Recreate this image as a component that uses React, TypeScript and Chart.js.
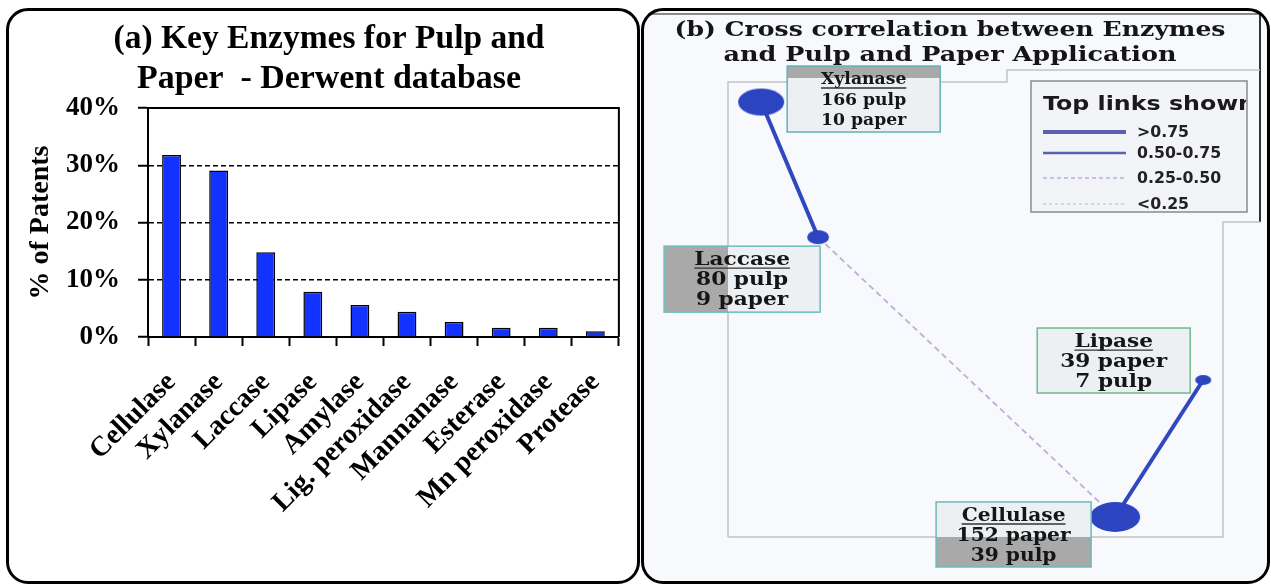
import React, { useEffect, useRef } from 'react';
import { Chart, registerables } from 'chart.js';

Chart.register(...registerables);

// ---------- Panel (a) data ----------
const enzymeCategories = ['Cellulase', 'Xylanase', 'Laccase', 'Lipase', 'Amylase', 'Lig. peroxidase', 'Mannanase', 'Esterase', 'Mn peroxidase', 'Protease'];
const patentShare = [31.8, 29.1, 14.8, 7.9, 5.6, 4.4, 2.6, 1.6, 1.6, 1.0];
const yTickValues = [0, 10, 20, 30, 40];
const leftTitleLines = ['(a) Key Enzymes for Pulp and', 'Paper  - Derwent database'];
const yAxisTitle = '% of Patents';

// ---------- Panel (b) data ----------
const rightTitleLines = ['(b) Cross correlation between Enzymes', 'and Pulp and Paper Application'];
const nodeNames = ['Xylanase', 'Laccase', 'Lipase', 'Cellulase'];
const nodeX = [6.7, 18.2, 96.0, 78.2];
const nodeY = [95.6, 65.9, 34.5, 4.4];
const pulpCounts = [166, 80, 7, 39];
const paperCounts = [10, 9, 39, 152];
const linkFrom = ['Xylanase', 'Laccase', 'Cellulase'];
const linkTo = ['Laccase', 'Cellulase', 'Lipase'];
const linkBand = ['>0.75', '0.25-0.50', '>0.75'];
const legendTitle = 'Top links shown';
const legendBands = ['>0.75', '0.50-0.75', '0.25-0.50', '<0.25'];

// ---------- styles ----------
const SERIF = '"Liberation Serif", "Times New Roman", serif';
const WIDE_SERIF = '"DejaVu Serif", serif';
const WIDE_SANS = '"DejaVu Sans", sans-serif';
const BAR_BLUE = '#1232ff';
const NODE_BLUE = '#2c44c0';

const LINK_STYLE: Record<string, { color: string; width: number; dash: number[] }> = {
  '>0.75': { color: '#3048bf', width: 4, dash: [] },
  '0.50-0.75': { color: '#3048bf', width: 2.5, dash: [] },
  '0.25-0.50': { color: '#bcb0d8', width: 1.8, dash: [6, 4] },
  '<0.25': { color: '#d8d0ea', width: 1.5, dash: [3, 3] },
};
const LEGEND_STYLE: Record<string, { color: string; width: number; dash: number[] }> = {
  '>0.75': { color: '#5a60b2', width: 4, dash: [] },
  '0.50-0.75': { color: '#5a60b2', width: 2.5, dash: [] },
  '0.25-0.50': { color: '#c9bfe0', width: 2, dash: [4, 3] },
  '<0.25': { color: '#d9d2ea', width: 2, dash: [3, 3] },
};
const NODE_SHAPE = [
  { rx: 23, ry: 13.5 },
  { rx: 11, ry: 7 },
  { rx: 8, ry: 5 },
  { rx: 25, ry: 15 },
];
const BOX_LAYOUT = [
  { dx: 26, dy: -36, w: 153, h: 66, border: '#62b4b4', font: 17, textW: 85 },
  { dx: -154, dy: 9, w: 156, h: 66, border: '#6cbdbd', font: 18, textW: 92 },
  { dx: -166, dy: -52, w: 153, h: 65, border: '#72bb8c', font: 18, textW: 107 },
  { dx: -179, dy: -15, w: 155, h: 65, border: '#6cb9b9', font: 18, textW: 114 },
];

function makeEllipse(rx: number, ry: number, color: string) {
  const c = document.createElement('canvas');
  c.width = Math.ceil(rx * 2) + 2;
  c.height = Math.ceil(ry * 2) + 2;
  const g = c.getContext('2d')!;
  g.fillStyle = color;
  g.beginPath();
  g.ellipse(c.width / 2, c.height / 2, rx, ry, 0, 0, Math.PI * 2);
  g.fill();
  return c;
}

function fitText(ctx: CanvasRenderingContext2D, text: string, cx: number, y: number, sx: number, align: CanvasTextAlign = 'center') {
  ctx.save();
  ctx.translate(cx, y);
  ctx.scale(sx, 1);
  ctx.textAlign = align;
  ctx.fillText(text, 0, 0);
  ctx.restore();
}

function BarPanel() {
  const ref = useRef<HTMLCanvasElement>(null);
  useEffect(() => {
    const titlePlugin = {
      id: 'panelTitleA',
      afterDraw(chart: any) {
        const ctx = chart.ctx as CanvasRenderingContext2D;
        const { left, right, top, bottom } = chart.chartArea;
        ctx.save();
        ctx.strokeStyle = '#000';
        ctx.lineWidth = 2;
        ctx.beginPath();
        ctx.moveTo(left, top);
        ctx.lineTo(right, top);
        ctx.lineTo(right, bottom);
        ctx.stroke();
        ctx.font = `bold 33px ${SERIF}`;
        ctx.fillStyle = '#000';
        ctx.textBaseline = 'alphabetic';
        const targets = [431, 384];
        leftTitleLines.forEach((t, i) => {
          const sx = targets[i] / ctx.measureText(t).width;
          fitText(ctx, t, 329, 48 + i * 40, sx);
        });
        ctx.restore();
      },
    };
    const chart = new Chart(ref.current!, {
      type: 'bar',
      data: {
        labels: enzymeCategories,
        datasets: [
          {
            data: patentShare,
            backgroundColor: BAR_BLUE,
            borderColor: '#000',
            borderWidth: 1.5,
            categoryPercentage: 1,
            barPercentage: 0.4,
          },
        ],
      },
      options: {
        animation: false,
        responsive: false,
        layout: { padding: { top: 108, right: 18, bottom: 0, left: 0 } },
        plugins: { legend: { display: false }, tooltip: { enabled: false }, title: { display: false } },
        scales: {
          x: {
            grid: { offset: true, drawOnChartArea: false, drawTicks: true, tickLength: 9, tickColor: '#000', tickWidth: 2 },
            border: { color: '#000', width: 2 },
            ticks: {
              minRotation: 45,
              maxRotation: 45,
              autoSkip: false,
              padding: 20,
              color: '#000',
              font: { family: SERIF, size: 28, weight: 'bold' },
            },
            afterFit: (s: any) => {
              s.height = 247;
            },
          },
          y: {
            min: 0,
            max: 40,
            afterBuildTicks: (s: any) => {
              s.ticks = yTickValues.map((v) => ({ value: v }));
            },
            ticks: {
              callback: (v: any) => v + '%',
              padding: 18,
              color: '#000',
              font: { family: SERIF, size: 27, weight: 'bold' },
            },
            grid: {
              color: (c: any) => {
                const v = c.tick ? c.tick.value : null;
                return v === 0 || v === 40 ? 'rgba(0,0,0,0)' : '#000';
              },
              lineWidth: 1.5,
              tickLength: 10,
              tickColor: '#000',
              tickWidth: 2,
            },
            border: { color: '#000', width: 2, dash: [5, 3] },
            title: {
              display: true,
              text: yAxisTitle,
              color: '#000',
              font: { family: SERIF, size: 28, weight: 'bold' },
              padding: { top: 24, bottom: 0 },
            },
            afterFit: (s: any) => {
              s.width = 148;
            },
          },
        },
      } as any,
      plugins: [titlePlugin],
    });
    return () => chart.destroy();
  }, []);
  return <canvas ref={ref} width={640} height={584} style={{ position: 'absolute', left: 0, top: 0 }} />;
}

function NetworkPanel() {
  const ref = useRef<HTMLCanvasElement>(null);
  useEffect(() => {
    const idx = (n: string) => nodeNames.indexOf(n);
    const linkDatasets = linkFrom.map((f, i) => {
      const a = idx(f);
      const b = idx(linkTo[i]);
      const st = LINK_STYLE[linkBand[i]];
      return {
        type: 'line',
        data: [
          { x: nodeX[a], y: nodeY[a] },
          { x: nodeX[b], y: nodeY[b] },
        ],
        borderColor: st.color,
        borderWidth: st.width,
        borderDash: st.dash,
        pointRadius: 0,
        showLine: true,
        fill: false,
        clip: false,
        order: 1,
      };
    });
    const nodeDataset = {
      type: 'scatter',
      data: nodeNames.map((_, i) => ({ x: nodeX[i], y: nodeY[i] })),
      pointStyle: NODE_SHAPE.map((s) => makeEllipse(s.rx, s.ry, NODE_BLUE)),
      pointRadius: 5,
      clip: false,
      order: 0,
    };

    const netPlugin = {
      id: 'network',
      beforeDraw(chart: any) {
        const ctx = chart.ctx as CanvasRenderingContext2D;
        const { left: L, right: R, top: T, bottom: B } = chart.chartArea;
        ctx.save();
        ctx.fillStyle = '#f7f9fc';
        ctx.beginPath();
        (ctx as any).roundRect(2, 9, 627, 573, 22);
        ctx.fill();
        // inner image edge lines
        ctx.strokeStyle = '#666';
        ctx.lineWidth = 1.5;
        ctx.beginPath();
        ctx.moveTo(8, 14);
        ctx.lineTo(620, 14);
        ctx.stroke();
        ctx.strokeStyle = '#333';
        ctx.lineWidth = 2;
        ctx.beginPath();
        ctx.moveTo(620, 14);
        ctx.lineTo(620, T + 140);
        ctx.stroke();
        // frame
        ctx.strokeStyle = '#c2c2c2';
        ctx.lineWidth = 1.5;
        ctx.beginPath();
        ctx.moveTo(L, B);
        ctx.lineTo(L, T);
        ctx.lineTo(L + 279, T);
        ctx.lineTo(L + 279, T - 12);
        ctx.lineTo(R + 37, T - 12);
        ctx.moveTo(R + 37, T + 140);
        ctx.lineTo(R, T + 140);
        ctx.lineTo(R, B);
        ctx.lineTo(L, B);
        ctx.stroke();
        ctx.restore();
      },
      afterDatasetsDraw(chart: any) {
        const ctx = chart.ctx as CanvasRenderingContext2D;
        const area = chart.chartArea;
        const meta = chart.getDatasetMeta(chart.data.datasets.length - 1);
        ctx.save();
        // label boxes
        nodeNames.forEach((name, i) => {
          const p = meta.data[i];
          const b = BOX_LAYOUT[i];
          const x = p.x + b.dx;
          const y = p.y + b.dy;
          ctx.fillStyle = '#a9a9a9';
          ctx.fillRect(x, y, b.w, b.h);
          const ix0 = Math.max(x, area.left);
          const iy0 = Math.max(y, area.top + (i === 0 ? -4 : 0));
          const ix1 = Math.min(x + b.w, area.right);
          const iy1 = Math.min(y + b.h, area.bottom);
          ctx.fillStyle = '#ecf0f3';
          if (ix1 > ix0 && iy1 > iy0) ctx.fillRect(ix0, iy0, ix1 - ix0, iy1 - iy0);
          ctx.strokeStyle = b.border;
          ctx.lineWidth = 1.5;
          ctx.strokeRect(x, y, b.w, b.h);
          const counts = [
            { n: pulpCounts[i], t: 'pulp' },
            { n: paperCounts[i], t: 'paper' },
          ].sort((a, c) => c.n - a.n);
          const lines = [name, `${counts[0].n} ${counts[0].t}`, `${counts[1].n} ${counts[1].t}`];
          ctx.font = `bold ${b.font}px ${WIDE_SERIF}`;
          ctx.fillStyle = '#151515';
          ctx.textBaseline = 'middle';
          const sx = b.textW / ctx.measureText(lines[1]).width;
          const cx = x + b.w / 2;
          const offs = [14, 34.5, 54.5];
          lines.forEach((t, k) => fitText(ctx, t, cx, y + offs[k], sx));
          const nw = ctx.measureText(name).width * sx;
          ctx.strokeStyle = '#333';
          ctx.lineWidth = 1.3;
          ctx.beginPath();
          ctx.moveTo(cx - nw / 2, y + offs[0] + 8);
          ctx.lineTo(cx + nw / 2, y + offs[0] + 8);
          ctx.stroke();
        });
        // legend
        const lx = 391, ly = 81, lw = 216, lh = 131;
        ctx.fillStyle = '#f2f4f7';
        ctx.fillRect(lx, ly, lw, lh);
        ctx.strokeStyle = '#8a8a8a';
        ctx.lineWidth = 1.5;
        ctx.strokeRect(lx, ly, lw, lh);
        ctx.save();
        ctx.beginPath();
        ctx.rect(lx, ly, lw - 1, lh);
        ctx.clip();
        ctx.fillStyle = '#1a1a1a';
        ctx.textBaseline = 'alphabetic';
        ctx.font = `bold 19px ${WIDE_SANS}`;
        const tsx = 212 / ctx.measureText(legendTitle).width;
        fitText(ctx, legendTitle, 403, 110, tsx, 'left');
        const rowY = [132, 153, 178, 204];
        ctx.font = `bold 15px ${WIDE_SANS}`;
        ctx.textBaseline = 'middle';
        legendBands.forEach((band, k) => {
          const st = LEGEND_STYLE[band];
          ctx.strokeStyle = st.color;
          ctx.lineWidth = st.width;
          ctx.setLineDash(st.dash);
          ctx.beginPath();
          ctx.moveTo(403, rowY[k]);
          ctx.lineTo(486, rowY[k]);
          ctx.stroke();
          ctx.setLineDash([]);
          ctx.fillStyle = '#222';
          fitText(ctx, band, 497, rowY[k] + 1, 1.05, 'left');
        });
        ctx.restore();
        // title
        ctx.fillStyle = '#151515';
        ctx.font = `bold 20px ${WIDE_SERIF}`;
        ctx.textBaseline = 'alphabetic';
        const targets = [551, 453];
        const bases = [36, 61];
        rightTitleLines.forEach((t, k) => {
          const sx = targets[k] / ctx.measureText(t).width;
          fitText(ctx, t, 310, bases[k], sx);
        });
        ctx.restore();
      },
    };

    const chart = new Chart(ref.current!, {
      type: 'scatter',
      data: { datasets: [...linkDatasets, nodeDataset] as any },
      options: {
        animation: false,
        responsive: false,
        layout: { padding: { left: 88, right: 48, top: 82, bottom: 47 } },
        plugins: { legend: { display: false }, tooltip: { enabled: false } },
        scales: {
          x: { type: 'linear', min: 0, max: 100, display: false },
          y: { type: 'linear', min: 0, max: 100, display: false },
        },
      } as any,
      plugins: [netPlugin],
    });
    return () => chart.destroy();
  }, []);
  return <canvas ref={ref} width={631} height={584} style={{ position: 'absolute', left: 640, top: 0 }} />;
}

export default function App() {
  useEffect(() => {
    document.body.style.margin = '0';
  }, []);
  const border: React.CSSProperties = {
    position: 'absolute',
    top: 8,
    height: 576,
    border: '3px solid #000',
    borderRadius: 22,
    boxSizing: 'border-box',
    pointerEvents: 'none',
  };
  return (
    <div style={{ position: 'relative', width: 1271, height: 584, background: '#fff', overflow: 'hidden' }}>
      <BarPanel />
      <NetworkPanel />
      <div style={{ ...border, left: 6, width: 634 }} />
      <div style={{ ...border, left: 641, width: 629 }} />
    </div>
  );
}
